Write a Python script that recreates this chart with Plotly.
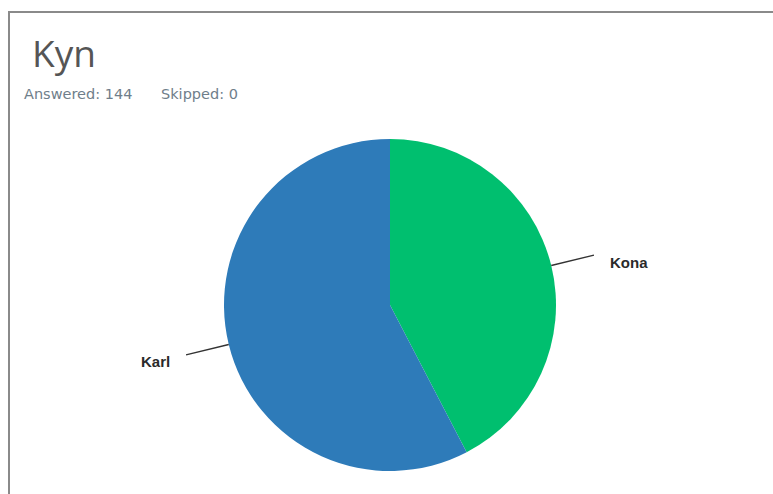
import math
import plotly.graph_objects as go

# Survey question results
categories = ["Kona", "Karl"]
counts = [61, 83]
colors = ["#00bf6f", "#2e7bb9"]
answered = 144
skipped = 0

W, H = 773, 494
cx, cy, r = 390, 305, 166  # pie centre and radius in pixels

def px(x):
    return x / W

def py(y):
    return 1 - y / H

fig = go.Figure()
fig.add_trace(go.Pie(
    labels=categories,
    values=counts,
    marker=dict(colors=colors, line=dict(width=0)),
    sort=False,
    direction="clockwise",
    rotation=0,
    textinfo="none",
    hoverinfo="label+value+percent",
    showlegend=False,
    domain=dict(x=[px(cx - r), px(cx + r)], y=[py(cy + r), py(cy - r)]),
))

# Leader lines and outside labels at each slice's mid-angle
shapes = []
annotations = []
total = sum(counts)
start = 0.0
for name, v in zip(categories, counts):
    mid = (start + v / 2) / total * 2 * math.pi
    start += v
    sx, sy = math.sin(mid), -math.cos(mid)
    x0, y0 = cx + r * sx, cy + r * sy
    x1, y1 = cx + (r + 44) * sx, cy + (r + 44) * sy
    shapes.append(dict(type="line", xref="paper", yref="paper",
                       x0=px(x0), y0=py(y0), x1=px(x1), y1=py(y1),
                       line=dict(color="#333", width=1.4)))
    right = sx > 0
    annotations.append(dict(
        x=px(x1 + (14 if right else -14)), y=py(y1 + 7),
        xref="paper", yref="paper", text=f"<b>{name}</b>",
        showarrow=False, xanchor="left" if right else "right", yanchor="middle",
        font=dict(family="Liberation Sans, Arial, sans-serif", size=15, color="#2a2a2a"),
    ))

# Panel frame
shapes.append(dict(type="rect", xref="paper", yref="paper",
                   x0=px(9), y0=py(H + 10), x1=px(W + 10), y1=py(12),
                   line=dict(color="#8a8a8a", width=2), fillcolor="rgba(0,0,0,0)"))

annotations.append(dict(x=px(30), y=py(52), xref="paper", yref="paper",
                        text="Kyn", showarrow=False, xanchor="left", yanchor="middle",
                        font=dict(family="Open Sans, sans-serif", size=37, color="#555")))
annotations.append(dict(x=px(22), y=py(94), xref="paper", yref="paper",
                        text=f"Answered: {answered}", showarrow=False,
                        xanchor="left", yanchor="middle",
                        font=dict(family="DejaVu Sans, sans-serif", size=14.5, color="#6f7e8a")))
annotations.append(dict(x=px(159), y=py(94), xref="paper", yref="paper",
                        text=f"Skipped: {skipped}", showarrow=False,
                        xanchor="left", yanchor="middle",
                        font=dict(family="DejaVu Sans, sans-serif", size=14.5, color="#6f7e8a")))

fig.update_layout(
    width=W, height=H,
    margin=dict(l=0, r=0, t=0, b=0),
    paper_bgcolor="white",
    plot_bgcolor="white",
    shapes=shapes,
    annotations=annotations,
)

fig.write_html("out.html")
